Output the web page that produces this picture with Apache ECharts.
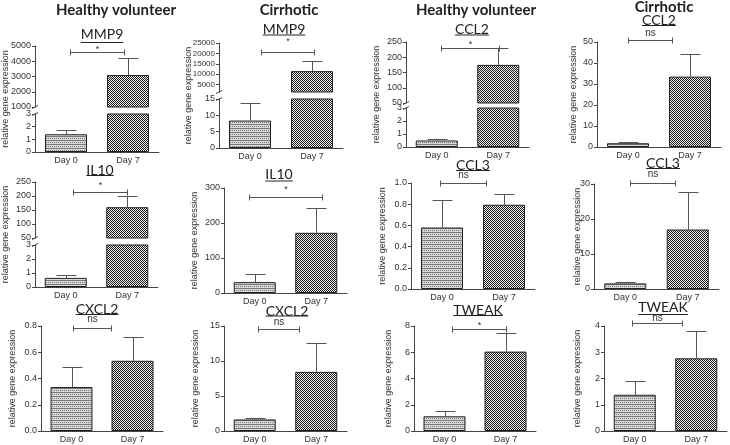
<!DOCTYPE html>
<html>
<head>
<meta charset="utf-8">
<script src="https://cdn.jsdelivr.net/npm/echarts@6/dist/echarts.min.js"></script>
<style>
html,body{margin:0;padding:0;background:#fff;}
#main{width:730px;height:445px;}
</style>
</head>
<body>
<div id="main"></div>
<script>
'use strict';

// categories
var days = ['Day 0', 'Day 7'];

// mean values and error (SEM)
var hvMmp9 = [1.4, 3100],   hvMmp9Err = [0.35, 1100];
var ciMmp9 = [8.4, 11500],  ciMmp9Err = [5.4, 4900];
var hvCcl2 = [0.5, 175],    hvCcl2Err = [0.1, 55];
var ciCcl2 = [1.8, 33.5],   ciCcl2Err = [0.6, 10.8];
var hvIl10 = [0.65, 160],   hvIl10Err = [0.2, 40];
var ciIl10 = [31, 172],     ciIl10Err = [24, 70];
var hvCcl3 = [0.58, 0.795], hvCcl3Err = [0.255, 0.105];
var ciCcl3 = [1.6, 17],     ciCcl3Err = [0.3, 10.6];
var hvCxcl2 = [0.335, 0.535], hvCxcl2Err = [0.15, 0.18];
var ciCxcl2 = [1.65, 8.45], ciCxcl2Err = [0.15, 4.1];
var hvTweak = [1.12, 6.05], hvTweakErr = [0.43, 1.45];
var ciTweak = [1.38, 2.77], ciTweakErr = [0.52, 1.03];

// tick labels of the one axis with uneven ticks
var ciMmp9UpperTicks = [5000, 10000, 15000, 20000, 25000];

var groupTitles = ['Healthy volunteer', 'Cirrhotic', 'Healthy volunteer', 'Cirrhotic'];
var yName = 'relative gene expression';

var plain = function(v){ return String(v); };
var fix1 = function(v){ return v.toFixed(1); };

// layout of each little panel
var panels = [
  {data: hvMmp9, err: hvMmp9Err, gene: 'MMP9', sig: '*', left: 35, width: 124,
   segs: [{top: 114, height: 38, max: 3, interval: 1}, {top: 46, height: 61, min: 1000, max: 5000, interval: 1000}],
   sigAt: 4600, sigDx: [4, -4], sigDy: 3, title: [102, 34.5, 42], nameX: 6},
  {data: ciMmp9, err: ciMmp9Err, gene: 'MMP9', sig: '*', left: 219, width: 124,
   segs: [{top: 99, height: 49, max: 15, interval: 5}, {top: 43, height: 49, min: 1500, max: 25000, ticks: ciMmp9UpperTicks, size: 8}],
   sigAt: 20700, sigDx: [11, 2], sigDy: 11, title: [284, 29, 34.5], nameX: 189},
  {data: hvCcl2, err: hvCcl2Err, gene: 'CCL2', sig: '*', left: 406, width: 123,
   segs: [{top: 108, height: 39, max: 3, interval: 1}, {top: 42, height: 61, min: 50, max: 250, interval: 50}],
   sigAt: 230, sigDx: [4, 1], sigDy: 4, title: [472, 29, 34.5], nameX: 377},
  {data: ciCcl2, err: ciCcl2Err, gene: 'CCL2', sig: 'ns', left: 597, width: 124,
   segs: [{top: 42, height: 105, max: 50, interval: 10}],
   sigAt: 51, sigDx: [0, -18], sigDy: 7, title: [659, 20.5, 25], nameX: 574},
  {data: hvIl10, err: hvIl10Err, gene: 'IL10', sig: '*', left: 35, width: 123,
   segs: [{top: 245, height: 42, max: 3, interval: 1}, {top: 182, height: 56, min: 50, max: 250, interval: 50}],
   sigAt: 214, sigDx: [7, 0], sigDy: 7, title: [100, 170, 175], nameX: 6},
  {data: ciIl10, err: ciIl10Err, gene: 'IL10', sig: '*', left: 224, width: 123,
   segs: [{top: 188, height: 105, max: 300, interval: 100}],
   sigAt: 274, sigDx: [-6, 6], sigDy: 8, title: [279, 174.5, 180.5], nameX: 195},
  {data: hvCcl3, err: hvCcl3Err, gene: 'CCL3', sig: 'ns', left: 411, width: 124,
   segs: [{top: 183, height: 106, max: 1, interval: 0.2, fmt: fix1}],
   sigAt: 1.0, sigDx: [-2, -18], sigDy: 8, title: [473, 165, 170], nameX: 383},
  {data: ciCcl3, err: ciCcl3Err, gene: 'CCL3', sig: 'ns', left: 594, width: 125,
   segs: [{top: 184, height: 105, max: 30, interval: 10}],
   sigAt: 30.3, sigDx: [5, -13], sigDy: 9, title: [663, 163, 168], nameX: 578},
  {data: hvCxcl2, err: hvCxcl2Err, gene: 'CXCL2', sig: 'ns', left: 41, width: 122,
   segs: [{top: 326, height: 105, max: 0.8, interval: 0.2, fmt: fix1}],
   sigAt: 0.785, sigDx: [1.5, -21.5], sigDy: 9, title: [97, 309.5, 314], nameX: 13},
  {data: ciCxcl2, err: ciCxcl2Err, gene: 'CXCL2', sig: 'ns', left: 224, width: 123,
   segs: [{top: 326, height: 105, max: 15, interval: 5}],
   sigAt: 14.6, sigDx: [3, -17], sigDy: 7, title: [287, 311, 315.5], nameX: 196},
  {data: hvTweak, err: hvTweakErr, gene: 'TWEAK', sig: '*', left: 414, width: 122,
   segs: [{top: 326, height: 105, max: 8, interval: 2}],
   sigAt: 7.8, sigDx: [7.5, 0], sigDy: 4, title: [478, 310.5, 315], nameX: 389},
  {data: ciTweak, err: ciTweakErr, gene: 'TWEAK', sig: 'ns', left: 604, width: 123,
   segs: [{top: 326, height: 105, max: 4, interval: 1}],
   sigAt: 4.1, sigDx: [-3, -14], sigDy: 5, title: [663, 307.5, 314], nameX: 578}
];
var groupPos = [[116, 10], [289, 10], [476, 10], [664, 7]];

var AX = '#444', TXT = '#333', ERR = '#555';
var tickFont = 'Liberation Sans';

// hatch fills of the two bars
function makePattern(w, h, bg, fg, cells){
	var c = document.createElement('canvas');
	c.width = w; c.height = h;
	var ctx = c.getContext('2d');
	ctx.fillStyle = bg; ctx.fillRect(0, 0, w, h);
	ctx.fillStyle = fg;
	cells.forEach(function(p){ ctx.fillRect(p[0], p[1], 1, 1); });
	return {image: c, repeat: 'repeat'};
}
var pats = [
	makePattern(4, 4, '#d8d8d8', '#7a7a7a', [[0,0],[1,0],[2,0],[3,0],[0,2],[2,2]]),
	makePattern(2, 2, '#f0f0f0', '#1a1a1a', [[0,0],[1,1]])
];

var measure = document.createElement('canvas').getContext('2d');

function renderErr(params, api){
	var cat = api.value(0), m = api.value(1), e = api.value(2);
	var p0 = api.coord([cat, m]), p1 = api.coord([cat, m + e]);
	var x = Math.round(p0[0]) + 0.5, yt = Math.round(p1[1]) + 0.5;
	var st = {stroke: ERR, lineWidth: 1};
	return {type: 'group', children: [
		{type: 'line', shape: {x1: x, y1: p0[1], x2: x, y2: yt}, style: st},
		{type: 'line', shape: {x1: x - 10, y1: yt, x2: x + 10, y2: yt}, style: st}
	]};
}

function bracketRender(p){
	return function(params, api){
		var lv = api.value(1);
		var a = api.coord([0, lv]), b = api.coord([1, lv]);
		var x1 = Math.round(a[0] + p.sigDx[0]) + 0.5, x2 = Math.round(b[0] + p.sigDx[1]) + 0.5;
		var y = Math.round(a[1]) + 0.5;
		var st = {stroke: ERR, lineWidth: 1};
		return {type: 'group', children: [
			{type: 'line', shape: {x1: x1, y1: y, x2: x2, y2: y}, style: st},
			{type: 'line', shape: {x1: x1, y1: y - 3, x2: x1, y2: y + 3}, style: st},
			{type: 'line', shape: {x1: x2, y1: y - 3, x2: x2, y2: y + 3}, style: st},
			{type: 'text', x: (x1 + x2) / 2, y: y - p.sigDy, style: {
				text: p.sig, fill: TXT, align: 'center', verticalAlign: 'middle',
				font: (p.sig == 'ns' ? '10px ' : '9px ') + tickFont}}
		]};
	};
}

var grids = [], xAxes = [], yAxes = [], series = [], graphics = [];

panels.forEach(function(p){
	var top = 1e9, bottom = 0;
	p.segs.forEach(function(seg, si){
		var gi = grids.length;
		var lo = seg.min || 0, hi = seg.max;
		top = Math.min(top, seg.top);
		bottom = Math.max(bottom, seg.top + seg.height);
		grids.push({left: p.left, top: seg.top, width: p.width, height: seg.height});
		xAxes.push({
			type: 'category', gridIndex: gi, data: days, show: si == 0,
			axisLine: {lineStyle: {color: AX}}, axisTick: {show: false},
			axisLabel: {color: TXT, fontSize: 9, fontFamily: tickFont, margin: 4}
		});
		var y = {
			type: 'value', gridIndex: gi, min: lo, max: hi,
			splitLine: {show: false},
			axisLine: {show: true, lineStyle: {color: AX}},
			axisTick: {show: true, length: 3, lineStyle: {color: AX}},
			axisLabel: {color: TXT, fontSize: seg.size || 9, fontFamily: tickFont, margin: 4,
				formatter: seg.fmt || plain}
		};
		if(seg.interval) y.interval = seg.interval;
		if(seg.ticks){
			y.axisLabel.customValues = seg.ticks;
			y.axisTick.customValues = seg.ticks;
		}
		yAxes.push(y);
		series.push({
			type: 'bar', xAxisIndex: gi, yAxisIndex: gi, barWidth: 42, clip: true,
			silent: true, animation: false,
			itemStyle: {borderColor: '#222', borderWidth: 1},
			data: p.data.map(function(v, i){
				return v > lo ? {value: v, itemStyle: {color: pats[i]}} : '-';
			})
		});
		series.push({
			type: 'custom', xAxisIndex: gi, yAxisIndex: gi, z: 5, silent: true, animation: false,
			renderItem: renderErr,
			data: p.data.map(function(v, i){ return [i, v, p.err[i]]; })
				.filter(function(d){ return d[1] >= lo && d[1] <= hi; })
		});
		if(si == p.segs.length - 1){
			series.push({
				type: 'custom', xAxisIndex: gi, yAxisIndex: gi, z: 6, silent: true, animation: false,
				renderItem: bracketRender(p),
				data: [[0, p.sigAt]]
			});
		}
		// small break marks where an axis is split
		if(p.segs.length > 1){
			var by = si == 0 ? seg.top : seg.top + seg.height;
			graphics.push({type: 'line', shape: {x1: p.left - 3, y1: by + 1.5, x2: p.left + 3, y2: by - 1.5},
				style: {stroke: AX, lineWidth: 1}});
		}
	});

	// y axis name
	graphics.push({type: 'text', x: p.nameX, y: (top + bottom) / 2, rotation: Math.PI / 2,
		style: {text: yName, fill: TXT, font: '9px ' + tickFont, align: 'center', verticalAlign: 'middle'}});

	// underlined gene name
	var font = '14px Lato';
	measure.font = font;
	var w = measure.measureText(p.gene).width;
	graphics.push({type: 'text', x: p.title[0], y: p.title[1],
		style: {text: p.gene, fill: '#222', font: font, align: 'center', verticalAlign: 'middle'}});
	graphics.push({type: 'line', shape: {x1: p.title[0] - w / 2, y1: p.title[2] + 0.5, x2: p.title[0] + w / 2, y2: p.title[2] + 0.5},
		style: {stroke: '#222', lineWidth: 1}});
});

groupTitles.forEach(function(t, i){
	graphics.push({type: 'text', x: groupPos[i][0], y: groupPos[i][1],
		style: {text: t, fill: '#222', font: 'bold 15px Lato', align: 'center', verticalAlign: 'middle'}});
});

var chart = echarts.init(document.getElementById('main'));
chart.setOption({
	animation: false,
	grid: grids,
	xAxis: xAxes,
	yAxis: yAxes,
	series: series,
	graphic: graphics
});
</script>
</body>
</html>
